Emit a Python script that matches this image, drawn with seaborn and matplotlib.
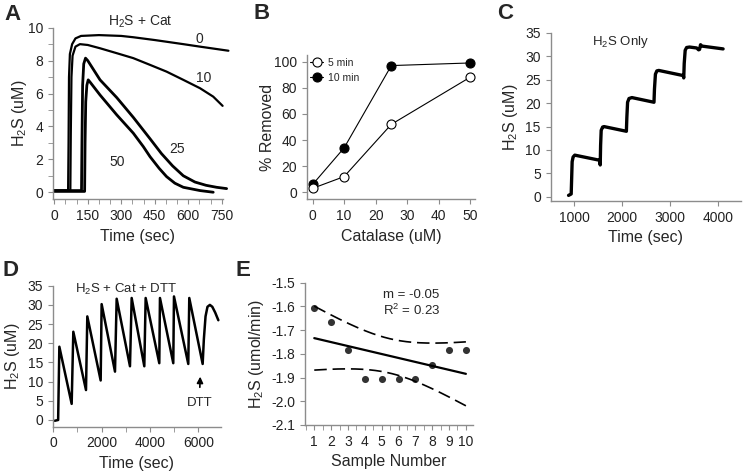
import numpy as np
import pandas as pd
import matplotlib
matplotlib.use("Agg")
import matplotlib.pyplot as plt
import seaborn as sns
from matplotlib.ticker import MultipleLocator, FixedLocator, FormatStrFormatter

# ---------------- data ----------------
# Panel A: H2S + catalase traces (time s, H2S uM), catalase 0/10/25/50 uM
a_t0 = [0, 62, 64, 66, 70, 80, 95, 120, 200, 300, 354, 450, 578, 652, 780]
a_v0 = [0.1, 0.1, 3.0, 7.0, 8.4, 9.0, 9.35, 9.5, 9.55, 9.5, 9.42, 9.25, 9.0, 8.85, 8.6]
a_t10 = [0, 72, 74, 77, 82, 95, 115, 150, 205, 280, 354, 429, 503, 578, 653, 712, 754]
a_v10 = [0.1, 0.1, 3.5, 7.0, 8.3, 8.85, 9.0, 8.95, 8.75, 8.45, 8.15, 7.74, 7.33, 6.83, 6.32, 5.81, 5.25]
a_t25 = [0, 122, 124, 127, 132, 140, 150, 205, 280, 354, 429, 480, 530, 578, 630, 680, 727, 772]
a_v25 = [0.1, 0.1, 3.0, 6.5, 7.8, 8.15, 8.0, 6.83, 5.75, 4.55, 3.25, 2.35, 1.6, 1.0, 0.62, 0.42, 0.3, 0.22]
a_t50 = [0, 136, 138, 141, 146, 152, 160, 205, 280, 354, 399, 429, 470, 503, 540, 578, 653, 712]
a_v50 = [0.05, 0.05, 3.0, 5.5, 6.5, 6.83, 6.7, 5.91, 4.70, 3.59, 2.77, 2.16, 1.45, 0.95, 0.55, 0.3, 0.1, 0.0]
a_labels = ["0", "10", "25", "50"]

# Panel B: % removed vs catalase
b_cat = [0, 10, 25, 50]
b_5min = [3, 12, 52, 88]
b_10min = [6, 34, 97, 99]

# Panel C: H2S only, stepwise additions
c_t = [880, 935, 945, 955, 975, 1010, 1530, 1540, 1548, 1560, 1590, 1620, 2085, 2095,
       2110, 2140, 2200, 2660, 2670, 2690, 2720, 2760, 3270, 3280, 3290, 3310, 3340,
       3400, 3550, 3590, 3610, 3630, 3660, 4100]
c_v = [0.3, 0.6, 4.0, 7.5, 8.5, 8.9, 7.8, 6.8, 11.0, 14.2, 14.9, 15.0, 14.0, 17.0,
       20.2, 21.0, 21.2, 20.2, 23.0, 26.2, 26.9, 27.0, 25.9, 25.4, 28.5, 31.3, 31.9,
       32.0, 31.8, 31.4, 31.5, 32.5, 32.2, 31.6]

# Panel D: H2S + Cat + DTT
d_t = [60, 200, 250, 760, 828, 1353, 1407, 1960, 2000, 2553, 2622, 3173, 3243, 3766,
       3822, 4386, 4414, 4965, 4994, 5586, 5627, 6181, 6230, 6300, 6380, 6480, 6580,
       6700, 6830]
d_v = [-0.2, 0.0, 19.1, 4.2, 23.0, 7.8, 27.0, 10.3, 30.2, 12.6, 31.6, 14.0, 31.8, 14.0,
       31.8, 14.8, 31.8, 14.8, 32.2, 14.6, 31.8, 14.6, 21.0, 27.0, 29.5, 30.0, 29.5,
       28.0, 26.0]

# Panel E: H2S rate vs sample number
e_sample = [1, 2, 3, 4, 5, 6, 7, 8, 9, 10]
e_rate = [-1.605, -1.665, -1.785, -1.905, -1.905, -1.905, -1.905, -1.845, -1.785, -1.785]
t_crit = 2.306  # t(0.975, df=8)

# ---------------- style ----------------
sns.set_style("ticks")
plt.rcParams["font.family"] = ["Liberation Sans", "DejaVu Sans"]
plt.rcParams["mathtext.fontset"] = "custom"
plt.rcParams["mathtext.rm"] = "Liberation Sans"
plt.rcParams["mathtext.it"] = "Liberation Sans:italic"
plt.rcParams["mathtext.bf"] = "Liberation Sans:bold"
plt.rcParams["axes.unicode_minus"] = False

SPINE = "#8c8c8c"
TICK_FS = 10
LAB_FS = 11.5
W, H = 743, 471

fig = plt.figure(figsize=(W / 100, H / 100), dpi=100)


def add_ax(x0, x1, ytop, ybot):
    return fig.add_axes([x0 / W, 1 - ybot / H, (x1 - x0) / W, (ybot - ytop) / H])


def style(ax):
    sns.despine(ax=ax)
    for s in ["left", "bottom"]:
        ax.spines[s].set_color(SPINE)
        ax.spines[s].set_linewidth(1.0)
    ax.tick_params(which="both", direction="out", color=SPINE, labelsize=TICK_FS,
                   labelcolor="#222222")
    ax.tick_params(which="major", length=3.5)
    ax.tick_params(which="minor", length=3.5)
    ax.set_facecolor("white")


# ---------------- Panel A ----------------
axA = add_ax(52.7, 222.6, 27.7, 199.3)
for t, v, lw in [(a_t0, a_v0, 1.6), (a_t10, a_v10, 1.6), (a_t25, a_v25, 2.0), (a_t50, a_v50, 2.0)]:
    sns.lineplot(x=t, y=v, ax=axA, color="black", lw=lw, estimator=None, sort=False,
                 clip_on=False)
axA.set_xlim(-7, 754)
axA.set_ylim(-0.43, 10)
axA.xaxis.set_major_locator(FixedLocator([0, 150, 300, 450, 600, 750]))
axA.xaxis.set_minor_locator(MultipleLocator(50))
axA.yaxis.set_major_locator(MultipleLocator(2))
axA.yaxis.set_minor_locator(MultipleLocator(1))
style(axA)
axA.set_xlabel("Time (sec)", fontsize=LAB_FS)
axA.set_ylabel("H$_2$S (uM)", fontsize=LAB_FS, labelpad=-1)
axA.text(384, 10.37, "H$_2$S + Cat", ha="center", va="center", fontsize=10, clip_on=False)
for lab, (x, y) in zip(a_labels, [(652, 9.3), (668, 6.95), (548, 2.6), (280, 1.86)]):
    axA.text(x, y, lab, ha="center", va="center", fontsize=10)

# ---------------- Panel B ----------------
axB = add_ax(306.7, 475, 55, 199.3)
sns.lineplot(x=b_cat, y=b_10min, ax=axB, color="black", lw=0.8, marker="o", ms=6.5,
             mec="black", markerfacecolor="black", mew=0.8, label="10 min", clip_on=False)
sns.lineplot(x=b_cat, y=b_5min, ax=axB, color="black", lw=0.8, marker="o", ms=6.5,
             mec="black", markerfacecolor="white", mew=0.8, label="5 min", clip_on=False)
axB.set_xlim(-1.9, 51.6)
axB.set_ylim(-5.4, 105.1)
axB.xaxis.set_major_locator(MultipleLocator(10))
axB.yaxis.set_major_locator(MultipleLocator(20))
style(axB)
axB.set_xlabel("Catalase (uM)", fontsize=LAB_FS)
axB.set_ylabel("% Removed", fontsize=LAB_FS, labelpad=-1)
h, l = axB.get_legend_handles_labels()
axB.legend(h[::-1], l[::-1], loc="upper left", frameon=False, fontsize=7.5,
           handlelength=1.3, handletextpad=0.4, borderaxespad=0.1, labelspacing=0.45,
           borderpad=0.2)

# ---------------- Panel C ----------------
axC = add_ax(550.5, 741, 33, 201)
sns.lineplot(x=c_t, y=c_v, ax=axC, color="black", lw=2.4, estimator=None, sort=False)
axC.set_xlim(504, 4473)
axC.set_ylim(-0.9, 35)
axC.xaxis.set_major_locator(FixedLocator([1000, 2000, 3000, 4000]))
axC.yaxis.set_major_locator(MultipleLocator(5))
style(axC)
axC.set_xlabel("Time (sec)", fontsize=LAB_FS)
axC.set_ylabel("H$_2$S (uM)", fontsize=LAB_FS)
axC.text(1952, 33.0, "H$_2$S Only", ha="center", va="center", fontsize=9.5)

# ---------------- Panel D ----------------
axD = add_ax(52.7, 221, 285.7, 426.7)
sns.lineplot(x=d_t, y=d_v, ax=axD, color="black", lw=1.8, estimator=None, sort=False)
axD.set_xlim(-25, 6940)
axD.set_ylim(-1.75, 35)
axD.xaxis.set_major_locator(FixedLocator([0, 2000, 4000, 6000]))
axD.xaxis.set_minor_locator(MultipleLocator(1000))
axD.yaxis.set_major_locator(MultipleLocator(5))
style(axD)
axD.set_xlabel("Time (sec)", fontsize=LAB_FS)
axD.set_ylabel("H$_2$S (uM)", fontsize=LAB_FS)
axD.text(3008, 33.9, "H$_2$S + Cat + DTT", ha="center", va="center", fontsize=9.5,
         clip_on=False)
axD.annotate("DTT", xy=(6080, 11.3), xytext=(6040, 4.3), ha="center", va="center",
             fontsize=9.5,
             arrowprops=dict(arrowstyle="-|>", color="black", lw=1.2, mutation_scale=9,
                             shrinkA=5, shrinkB=0))

# ---------------- Panel E ----------------
axE = add_ax(305, 473.3, 282.7, 425)
sns.regplot(x=e_sample, y=e_rate, ax=axE, ci=None, color="black",
            scatter_kws=dict(s=26, linewidths=0), line_kws=dict(lw=1.6))
xs = np.array(e_sample, dtype=float)
ys = np.array(e_rate, dtype=float)
n = len(xs)
slope, intercept = np.polyfit(xs, ys, 1)
resid = ys - (slope * xs + intercept)
s_err = np.sqrt(np.sum(resid ** 2) / (n - 2))
xg = np.linspace(xs.min(), xs.max(), 200)
se = s_err * np.sqrt(1.0 / n + (xg - xs.mean()) ** 2 / np.sum((xs - xs.mean()) ** 2))
fit = slope * xg + intercept
for band in (fit + t_crit * se, fit - t_crit * se):
    axE.plot(xg, band, color="black", lw=1.2, linestyle=(0, (7.5, 3.5)))
axE.set_xlim(0.45, 10.44)
axE.set_ylim(-2.1, -1.5)
axE.xaxis.set_major_locator(MultipleLocator(1))
axE.xaxis.set_minor_locator(FixedLocator(np.arange(0.5, 10.6, 1.0)))
axE.yaxis.set_major_locator(MultipleLocator(0.1))
axE.yaxis.set_major_formatter(FormatStrFormatter("%.1f"))
style(axE)
axE.set_xlabel("Sample Number", fontsize=LAB_FS)
axE.set_ylabel("H$_2$S (umol/min)", fontsize=LAB_FS)
axE.text(5.06, -1.552, "m = -0.05", ha="left", va="center", fontsize=9.5)
axE.text(5.06, -1.615, "R$^2$ = 0.23", ha="left", va="center", fontsize=9.5)

# ---------------- panel letters ----------------
for lab, (x, y) in zip("ABCDE", [(13, 14), (261.7, 13.3), (505, 13.3), (10, 270), (243.3, 270)]):
    fig.text(x / W, 1 - y / H, lab, fontsize=16, fontweight="bold", ha="center", va="center")

fig.savefig("out.png", dpi=100)
